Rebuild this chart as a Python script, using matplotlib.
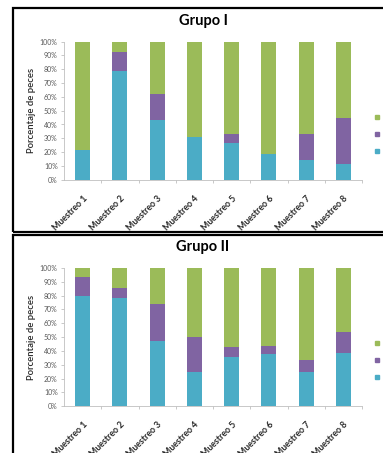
import matplotlib.pyplot as plt
from matplotlib.patches import Rectangle
from matplotlib.lines import Line2D

plt.rcParams['font.family'] = ['Lato', 'DejaVu Sans']

muestreos = ['Muestreo 1', 'Muestreo 2', 'Muestreo 3', 'Muestreo 4',
             'Muestreo 5', 'Muestreo 6', 'Muestreo 7', 'Muestreo 8']

# Grupo I (porcentaje de peces)
g1_azul = [21.4, 78.6, 43.2, 30.8, 26.7, 18.8, 14.3, 11.1]
g1_morado = [0, 14.0, 18.8, 0, 6.6, 0, 19.0, 33.4]
g1_verde = [100 - a - m for a, m in zip(g1_azul, g1_morado)]

# Grupo II
g2_azul = [80.0, 78.6, 47.4, 25.0, 35.7, 37.5, 25.0, 38.5]
g2_morado = [13.3, 7.1, 26.3, 25.0, 7.1, 6.3, 8.3, 15.4]
g2_verde = [100 - a - m for a, m in zip(g2_azul, g2_morado)]

azul = '#4BACC6'
morado = '#8064A2'
verde = '#9BBB59'
gris = '#595959'

W, H = 383, 453
fig = plt.figure(figsize=(W / 100, H / 100), dpi=100)


def px(x, y):
    return x / W, 1 - y / H


def panel(top_px, bottom_px, azules, morados, verdes, titulo, title_y, leg_y):
    x0, y0 = px(64, bottom_px)
    ax = fig.add_axes([x0, y0, 298 / W, (bottom_px - top_px) / H])
    pos = list(range(len(muestreos)))
    ax.bar(pos, azules, width=0.4, color=azul)
    ax.bar(pos, morados, width=0.4, bottom=azules, color=morado)
    base = [a + m for a, m in zip(azules, morados)]
    ax.bar(pos, verdes, width=0.4, bottom=base, color=verde)
    ax.set_xlim(-0.5, 7.5)
    ax.set_ylim(0, 100)
    ax.set_yticks(range(0, 101, 10))
    ax.set_yticklabels([f'{v}%' for v in range(0, 101, 10)], fontsize=5, color=gris)
    ax.set_xticks(pos)
    ax.set_xticklabels(muestreos, rotation=45, ha='right', rotation_mode='anchor',
                       fontsize=6.3, fontweight='bold', color='#262626')
    ax.set_xticks([p + 0.5 for p in pos], minor=True)
    ax.tick_params(axis='x', which='major', length=0, pad=10)
    ax.tick_params(axis='x', which='minor', length=2.5, color='#BFBFBF', width=0.6)
    ax.tick_params(axis='y', length=2.5, color='#BFBFBF', width=0.6, pad=2)
    for s in ['top', 'right']:
        ax.spines[s].set_visible(False)
    for s in ['left', 'bottom']:
        ax.spines[s].set_color('#BFBFBF')
        ax.spines[s].set_linewidth(0.6)
    ax.set_ylabel('Porcentaje de peces', fontsize=6.8, fontweight='semibold',
                  color='#262626', labelpad=3)
    tx, ty = px(203, title_y)
    fig.text(tx, ty, titulo, ha='center', va='center', fontsize=10.5, fontweight='bold')
    handles = [Line2D([], [], marker='s', linestyle='', markersize=3.5, color=c)
               for c in [verde, morado, azul]]
    lx, ly = px(374, leg_y)
    fig.legend(handles, ['', '', ''], loc='upper left', bbox_to_anchor=(lx, ly),
               frameon=False, handlelength=0.6, labelspacing=0.85, borderpad=0,
               borderaxespad=0, handletextpad=0.2, fontsize=7)
    return ax


panel(41.7, 179.7, g1_azul, g1_morado, g1_verde, 'Grupo I', 21, 113)
panel(268, 406.3, g2_azul, g2_morado, g2_verde, 'Grupo II', 247, 339)

# marcos de los paneles
for top, bottom in [(8, 232), (235, 470)]:
    x0, y0 = px(13, bottom)
    fig.patches.append(Rectangle((x0, y0), 400 / W, (bottom - top) / H,
                                 transform=fig.transFigure, fill=False,
                                 edgecolor='black', linewidth=1.6))

fig.savefig('out.png', dpi=100)
